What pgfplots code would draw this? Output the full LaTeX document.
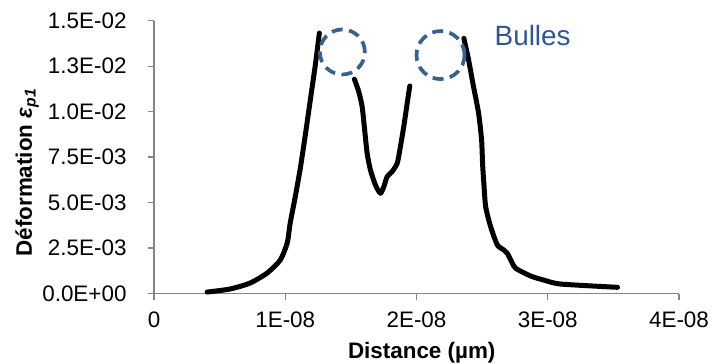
\documentclass[border=0pt]{standalone}
\usepackage{fontspec}
\setmainfont{Liberation Sans}
\usepackage{pgfplots}
\pgfplotsset{compat=1.18}
\definecolor{bl}{RGB}{58,96,146}
\definecolor{bltext}{RGB}{47,86,150}
\definecolor{axg}{RGB}{134,134,134}
\begin{document}
\begin{tikzpicture}
\begin{axis}[
  name=ax,
  scale only axis,
  width=525bp, height=272.8bp,
  xmin=0, xmax=4e-8, ymin=0, ymax=0.015,
  clip=false,
  axis x line=bottom, axis y line=left,
  axis line style={-, draw=axg, line width=1.2bp},
  tick style={draw=axg, line width=1.2bp},
  tick align=outside, major tick length=6bp,
  xtick={0,1e-8,2e-8,3e-8,4e-8},
  xticklabels={0,1E-08,2E-08,3E-08,4E-08},
  ytick={0,0.0025,0.005,0.0075,0.01,0.0125,0.015},
  yticklabels={0.0E+00,2.5E-03,5.0E-03,7.5E-03,1.0E-02,1.3E-02,1.5E-02},
  scaled x ticks=false, scaled y ticks=false,
  ticklabel style={font=\fontsize{22.5}{27}\selectfont},
  yticklabel style={xshift=-18bp},
  xticklabel style={yshift=-9bp},
  every axis x label/.style={at={(axis description cs:0.51,-0.2383)}, anchor=base},
  every axis y label/.style={at={(axis description cs:-0.2324,0.4436)}, rotate=90, anchor=base},
  xlabel={\fontsize{22.5}{27}\selectfont\bfseries Distance (µm)},
  ylabel={\fontsize{22.5}{27}\selectfont\bfseries Déformation \textit{ε}\textsubscript{\textit{p1}}},
]
\addplot[black, line width=5bp, line join=round, line cap=round, smooth, tension=0.4] coordinates {
(0.405e-8,0.00008) (0.580e-8,0.000247) (0.733e-8,0.000577) (0.863e-8,0.00113)
(0.962e-8,0.00184) (1.015e-8,0.00278) (1.038e-8,0.00388) (1.076e-8,0.00531)
(1.115e-8,0.00690) (1.153e-8,0.00872) (1.191e-8,0.01064) (1.229e-8,0.01256)
(1.260e-8,0.01432)
};
\addplot[black, line width=5bp, line join=round, line cap=round, smooth, tension=0.4] coordinates {
(1.527e-8,0.01178) (1.560e-8,0.01110) (1.586e-8,0.01027) (1.605e-8,0.00899)
(1.624e-8,0.00771) (1.649e-8,0.00679) (1.687e-8,0.00597) (1.725e-8,0.00551)
(1.751e-8,0.00587) (1.776e-8,0.00642) (1.814e-8,0.00670) (1.853e-8,0.00716)
(1.873e-8,0.00789) (1.903e-8,0.00917) (1.929e-8,0.01046) (1.949e-8,0.01141)
};
\addplot[black, line width=5bp, line join=round, line cap=round, smooth, tension=0.4] coordinates {
(2.361e-8,0.01403) (2.397e-8,0.01284) (2.435e-8,0.01135) (2.473e-8,0.00992)
(2.496e-8,0.00844) (2.504e-8,0.00707) (2.514e-8,0.00597) (2.527e-8,0.00477)
(2.565e-8,0.00367) (2.616e-8,0.00267) (2.666e-8,0.00239) (2.692e-8,0.00221)
(2.731e-8,0.00166) (2.756e-8,0.00138) (2.870e-8,0.00096) (2.969e-8,0.00074)
(3.099e-8,0.00052) (3.532e-8,0.00034)
};
\addplot[only marks, mark=o, mark size=22.5bp, mark options={draw=bl, line width=3.7bp, dash pattern=on 11bp off 6.5bp}] coordinates {(1.435e-8,0.01328)};
\addplot[only marks, mark=o, mark size=24bp, mark options={draw=bl, line width=3.7bp, dash pattern=on 11bp off 6.5bp}] coordinates {(2.183e-8,0.01311)};
\node[text=bltext, font=\fontsize{28}{32}\selectfont] at (axis cs:2.885e-8,0.01416) {Bulles};
\end{axis}
\pgfresetboundingbox
\path (ax.south west) ++(-154bp,-70.5bp) rectangle ++(712bp,364bp);
\end{tikzpicture}
\end{document}
